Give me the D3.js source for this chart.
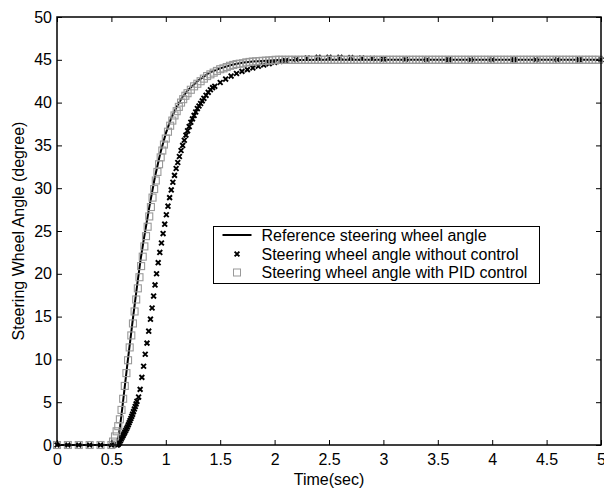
<!DOCTYPE html>
<html>
<head>
<meta charset="utf-8">
<script src="https://cdn.jsdelivr.net/npm/d3@7/dist/d3.min.js"></script>
<style>
  html, body { margin: 0; padding: 0; background: #fff; }
  svg { display: block; }
  text { font-family: "Liberation Sans", Arial, Helvetica, sans-serif; fill: #000; }
</style>
</head>
<body>
<svg id="chart" width="604" height="491"></svg>
<script>
// Axis ticks
const xTicks = [0, 0.5, 1, 1.5, 2, 2.5, 3, 3.5, 4, 4.5, 5];
const xTickLabels = ["0", "0.5", "1", "1.5", "2", "2.5", "3", "3.5", "4", "4.5", "5"];
const yTicks = [0, 5, 10, 15, 20, 25, 30, 35, 40, 45, 50];
const yTickLabels = ["0", "5", "10", "15", "20", "25", "30", "35", "40", "45", "50"];

// Reference steering wheel angle (time in s, angle in degree)
const refTime = [0, 0.5, 0.54, 0.56, 0.58, 0.60, 0.62, 0.65, 0.68, 0.70, 0.72, 0.74, 0.77, 0.80,
  0.85, 0.90, 0.95, 1.00, 1.05, 1.10, 1.15, 1.20, 1.30, 1.40, 1.50, 1.60, 1.70, 1.80, 2.00, 2.50, 5.00];
const refAngle = [0, 0, 0, 0.5, 2.2, 4.3, 6.5, 9.8, 12.9, 15.0, 17.0, 19.0, 21.8, 24.2,
  27.9, 31.3, 34.1, 36.4, 38.2, 39.5, 40.6, 41.4, 42.6, 43.5, 44.0, 44.4, 44.65, 44.8, 44.95, 45, 45];

// Steering wheel angle without control
const openTime = [0, 0.1, 0.2, 0.3, 0.4, 0.5, 0.55, 0.56, 0.567, 0.575, 0.583, 0.591, 0.599, 0.607,
  0.615, 0.623, 0.631, 0.639, 0.647, 0.655, 0.663, 0.671, 0.679, 0.687, 0.695, 0.703, 0.711,
  0.719, 0.727, 0.735, 0.750, 0.764, 0.780, 0.796, 0.811, 0.827, 0.843, 0.859, 0.874, 0.888,
  0.901, 0.915, 0.930, 0.945, 0.960, 0.975, 0.990, 1.005, 1.020, 1.035, 1.050, 1.065, 1.080,
  1.095, 1.110, 1.125, 1.140, 1.155, 1.170, 1.185, 1.200, 1.215, 1.230, 1.245, 1.260, 1.275,
  1.290, 1.305, 1.320, 1.335, 1.350, 1.370, 1.390, 1.410, 1.430, 1.450, 1.500, 1.550, 1.600,
  1.650, 1.700, 1.750, 1.800, 1.850, 1.900, 1.950, 2.000, 2.050, 2.100, 2.200, 2.300, 2.400,
  2.500, 2.600, 2.700, 2.800, 2.900, 3.000, 3.200, 3.400, 3.600, 3.800, 4.000, 4.200, 4.400,
  4.600, 4.800, 5.000];
const openAngle = [0, 0, 0, 0, 0, 0, 0, 0.05, 0.15, 0.3, 0.5, 0.7, 0.9, 1.1,
  1.3, 1.5, 1.7, 1.9, 2.1, 2.35, 2.6, 2.85, 3.1, 3.35, 3.6, 3.9, 4.2,
  4.5, 4.8, 5.1, 5.6, 6.5, 7.9, 9.2, 10.6, 11.9, 13.3, 14.7, 16.0, 17.4,
  18.7, 20.0, 21.3, 22.5, 23.6, 24.7, 25.8, 26.9, 27.9, 28.9, 29.8, 30.7, 31.5,
  32.3, 33.0, 33.7, 34.4, 35.0, 35.6, 36.2, 36.7, 37.2, 37.7, 38.1, 38.5, 38.9,
  39.3, 39.6, 39.9, 40.2, 40.5, 40.85, 41.2, 41.5, 41.75, 41.9, 42.35, 42.75, 43.1,
  43.4, 43.65, 43.85, 44.05, 44.25, 44.4, 44.55, 44.7, 44.8, 44.9, 45.05, 45.2, 45.3,
  45.3, 45.3, 45.25, 45.2, 45.15, 45.1, 45.05, 45, 45, 45, 45, 45, 45,
  45, 45, 45];

// Steering wheel angle with PID control
const pidTime = [0, 0.1, 0.2, 0.3, 0.4, 0.5, 0.515, 0.533, 0.548, 0.563, 0.578, 0.593, 0.608,
  0.623, 0.638, 0.653, 0.668, 0.683, 0.698, 0.713, 0.728, 0.743, 0.758, 0.773, 0.788, 0.803,
  0.818, 0.833, 0.848, 0.863, 0.878, 0.893, 0.908, 0.923, 0.938, 0.953, 0.968, 0.983, 1.000,
  1.020, 1.040, 1.060, 1.080, 1.100, 1.120, 1.140, 1.160, 1.180, 1.200, 1.230, 1.260, 1.290,
  1.320, 1.350, 1.380, 1.410, 1.440, 1.470, 1.500, 1.530, 1.560, 1.590, 1.620, 1.650, 1.680,
  1.710, 1.740, 1.770, 1.800, 1.830, 1.860, 1.890, 1.920, 1.950, 1.980,
  2.01, 2.04, 2.07, 2.10, 2.13, 2.16, 2.19, 2.22, 2.25, 2.28, 2.31, 2.34, 2.37, 2.40, 2.43,
  2.46, 2.49, 2.52, 2.55, 2.58, 2.61, 2.64, 2.67, 2.70, 2.73, 2.76, 2.79, 2.82, 2.85, 2.88,
  2.91, 2.94, 2.97, 3.00, 3.03, 3.06, 3.09, 3.12, 3.15, 3.18, 3.21, 3.24, 3.27, 3.30, 3.33,
  3.36, 3.39, 3.42, 3.45, 3.48, 3.51, 3.54, 3.57, 3.60, 3.63, 3.66, 3.69, 3.72, 3.75, 3.78,
  3.81, 3.84, 3.87, 3.90, 3.93, 3.96, 3.99, 4.02, 4.05, 4.08, 4.11, 4.14, 4.17, 4.20, 4.23,
  4.26, 4.29, 4.32, 4.35, 4.38, 4.41, 4.44, 4.47, 4.50, 4.53, 4.56, 4.59, 4.62, 4.65, 4.68,
  4.71, 4.74, 4.77, 4.80, 4.83, 4.86, 4.89, 4.92, 4.95, 4.98];
const pidAngle = [0, 0, 0, 0, 0, 0, 0.4, 1.0, 1.6, 2.2, 3.0, 4.1, 5.4,
  6.9, 8.4, 9.9, 11.4, 12.8, 14.2, 15.6, 17.0, 18.3, 19.6, 20.9, 22.0, 23.2,
  24.4, 25.5, 26.7, 27.8, 28.9, 29.9, 30.9, 31.9, 32.8, 33.6, 34.4, 35.1, 35.8,
  36.6, 37.3, 37.9, 38.5, 39.0, 39.5, 40.0, 40.4, 40.8, 41.1, 41.5, 41.9, 42.2,
  42.5, 42.8, 43.1, 43.3, 43.5, 43.7, 43.9, 44.0, 44.15, 44.3, 44.4, 44.5, 44.55,
  44.6, 44.7, 44.75, 44.8, 44.82, 44.85, 44.88, 44.9, 44.92, 44.95,
  45, 45, 45, 45, 45, 45, 45, 45, 45, 45, 45, 45, 45, 45, 45,
  45, 45, 45, 45, 45, 45, 45, 45, 45, 45, 45, 45, 45, 45, 45,
  45, 45, 45, 45, 45, 45, 45, 45, 45, 45, 45, 45, 45, 45, 45,
  45, 45, 45, 45, 45, 45, 45, 45, 45, 45, 45, 45, 45, 45, 45,
  45, 45, 45, 45, 45, 45, 45, 45, 45, 45, 45, 45, 45, 45, 45,
  45, 45, 45, 45, 45, 45, 45, 45, 45, 45, 45, 45, 45, 45, 45,
  45, 45, 45, 45, 45, 45, 45, 45, 45, 45];

const legendLabels = [
  "Reference steering wheel angle",
  "Steering wheel angle without control",
  "Steering wheel angle with PID control"
];

const svg = d3.select("#chart");
const W = 604, H = 491;
const margin = { left: 57, right: 3, top: 17, bottom: 46 };
const plotW = W - margin.left - margin.right;
const plotH = H - margin.top - margin.bottom;

const x = d3.scaleLinear().domain([0, 5]).range([margin.left, margin.left + plotW]);
const y = d3.scaleLinear().domain([0, 50]).range([margin.top + plotH, margin.top]);

svg.append("rect").attr("width", W).attr("height", H).attr("fill", "#fff");

const zip = (ts, vs) => ts.map((t, i) => [t, vs[i]]);
const refData = zip(refTime, refAngle);
const openData = zip(openTime, openAngle);
const pidData = zip(pidTime, pidAngle);

// Reference curve
svg.append("path")
  .datum(refData)
  .attr("fill", "none")
  .attr("stroke", "#000")
  .attr("stroke-width", 2)
  .attr("d", d3.line().x(d => x(d[0])).y(d => y(d[1])));

// Uncontrolled response: x markers
const cross = "M-2.4,-2.4L2.4,2.4M-2.4,2.4L2.4,-2.4";
svg.append("g").selectAll("path")
  .data(openData)
  .join("path")
  .attr("transform", d => `translate(${x(d[0])},${y(d[1])})`)
  .attr("d", cross)
  .attr("stroke", "#000")
  .attr("stroke-width", 1.9)
  .attr("fill", "none");

// PID response: hollow squares
const sq = 7;
svg.append("g").selectAll("rect")
  .data(pidData)
  .join("rect")
  .attr("x", d => x(d[0]) - sq / 2)
  .attr("y", d => y(d[1]) - sq / 2)
  .attr("width", sq)
  .attr("height", sq)
  .attr("fill", "none")
  .attr("stroke", "#999")
  .attr("stroke-width", 1.1);

// Axes with inward ticks on all four sides
const fontSize = 16;
const xFmt = (d) => xTickLabels[xTicks.indexOf(d)];
const yFmt = (d) => yTickLabels[yTicks.indexOf(d)];

const gx = svg.append("g")
  .attr("transform", `translate(0,${margin.top + plotH})`)
  .call(d3.axisBottom(x).tickValues(xTicks).tickFormat(xFmt).tickSize(-5).tickSizeOuter(0).tickPadding(9));
const gxTop = svg.append("g")
  .attr("transform", `translate(0,${margin.top})`)
  .call(d3.axisTop(x).tickValues(xTicks).tickFormat("").tickSize(-5).tickSizeOuter(0));
const gy = svg.append("g")
  .attr("transform", `translate(${margin.left},0)`)
  .call(d3.axisLeft(y).tickValues(yTicks).tickFormat(yFmt).tickSize(-5).tickSizeOuter(0).tickPadding(5));
const gyRight = svg.append("g")
  .attr("transform", `translate(${margin.left + plotW},0)`)
  .call(d3.axisRight(y).tickValues(yTicks).tickFormat("").tickSize(-5).tickSizeOuter(0));

[gx, gxTop, gy, gyRight].forEach(g => {
  g.select(".domain").remove();
  g.selectAll(".tick line").attr("stroke", "#000").attr("stroke-width", 1);
  g.selectAll("text")
    .attr("font-family", '"Liberation Sans", Arial, sans-serif')
    .attr("font-size", fontSize)
    .attr("fill", "#000");
});

svg.append("rect")
  .attr("x", margin.left)
  .attr("y", margin.top)
  .attr("width", plotW)
  .attr("height", plotH)
  .attr("fill", "none")
  .attr("stroke", "#000")
  .attr("stroke-width", 1.5);

// Axis titles
svg.append("text")
  .attr("x", margin.left + plotW / 2)
  .attr("y", 485)
  .attr("text-anchor", "middle")
  .attr("font-size", fontSize)
  .text("Time(sec)");

svg.append("text")
  .attr("transform", `translate(24,${margin.top + plotH / 2}) rotate(-90)`)
  .attr("text-anchor", "middle")
  .attr("font-size", fontSize)
  .text("Steering Wheel Angle (degree)");

// Legend
const lg = svg.append("g").attr("transform", "translate(213.5,226.5)");
lg.append("rect")
  .attr("width", 326).attr("height", 57)
  .attr("fill", "#fff").attr("stroke", "#000").attr("stroke-width", 1);
const rowY = [8.5, 27.5, 46];
lg.append("line")
  .attr("x1", 9).attr("x2", 38).attr("y1", rowY[0]).attr("y2", rowY[0])
  .attr("stroke", "#000").attr("stroke-width", 2);
lg.append("path")
  .attr("transform", `translate(23.5,${rowY[1]})`)
  .attr("d", cross).attr("stroke", "#000").attr("stroke-width", 1.9);
lg.append("rect")
  .attr("x", 23.5 - 3.5).attr("y", rowY[2] - 3.5).attr("width", 7).attr("height", 7)
  .attr("fill", "none").attr("stroke", "#999").attr("stroke-width", 1);
lg.selectAll("text.lab")
  .data(legendLabels)
  .join("text")
  .attr("class", "lab")
  .attr("x", 48)
  .attr("y", (d, i) => rowY[i])
  .attr("dy", "0.35em")
  .attr("font-size", fontSize)
  .text(d => d);
</script>
</body>
</html>
